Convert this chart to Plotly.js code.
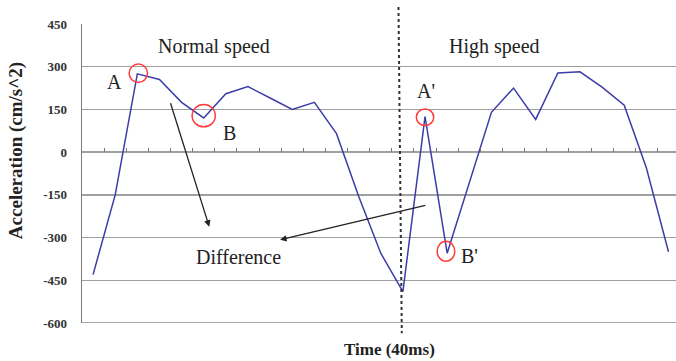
<!DOCTYPE html>
<html>
<head>
<meta charset="utf-8">
<script src="https://cdn.plot.ly/plotly-3.0.1.min.js"></script>
<style>html,body{margin:0;padding:0;background:#fff;}#chart{width:676px;height:361px;}</style>
</head>
<body>
<div id="chart"></div>
<script>
// Sample index (each sample = one time step)
const sampleIndex = [0,1,2,3,4,5,6,7,8,9,10,11,12,13,14,15,16,17,18,19,20,21,22,23,24,25,26];
// Acceleration (cm/s^2)
const acceleration = [-430,-150,275,255,175,120,205,230,190,150,175,65,-155,-355,-490,125,-355,-110,140,225,115,278,282,228,165,-55,-350];
const yTicks = [-600,-450,-300,-150,0,150,300,450];
// Marked points: [index, label]
const markedPoints = [[2,'A'],[5,'B'],[15,"A'"],[16,"B'"]];

const serif = 'Liberation Serif';
const boundaries = sampleIndex.map(i => i + 0.5);

const trace = {
  x: sampleIndex, y: acceleration, type: 'scatter', mode: 'lines',
  line: {color: '#3d3da8', width: 1.5}, hoverinfo: 'x+y'
};

// circle geometry (pixels): [dx, dy, rx, ry]
const circleGeom = {'A':[1,0.6,9.2,9.2],'B':[0,2.3,11.6,11.2],"A'":[0,-0.7,8.7,8.3],"B'":[-1.2,2,8.8,10]};
const shapes = markedPoints.map(([i,lab]) => {
  const g = circleGeom[lab];
  return {type:'circle', xref:'x', yref:'y', xsizemode:'pixel', ysizemode:'pixel',
    xanchor: sampleIndex[i], yanchor: acceleration[i],
    x0: g[0]-g[2], x1: g[0]+g[2], y0: g[1]-g[3], y1: g[1]+g[3],
    line:{color:'#ff3b3b', width:1.5}};
});
shapes.push({type:'line', xref:'x', yref:'paper', x0:13.8, x1:13.95, y0:1.057, y1:-0.034,
  line:{color:'#333', width:2, dash:'3px,3px'}});
shapes.push({type:'line', xref:'paper', yref:'y', x0:0, x1:1, y0:-600, y1:-600,
  line:{color:'#8a8a8a', width:1.4}});

const txt = (text, x, y) => ({text, x, y, xref:'x', yref:'y', showarrow:false,
  xanchor:'center', yanchor:'middle', font:{family:serif, size:20, color:'#222'}});
const annotations = [
  txt('Normal speed', 5.45, 372),
  txt('High speed', 18.12, 372),
  txt('Difference', 6.56, -367),
  txt('A', 0.99, 247),
  txt('B', 6.16, 68),
  txt("A'", 15.05, 216),
  txt("B'", 17.03, -365),
  {text:'', x:5.25, y:-262, ax:3.48, ay:177, xref:'x', yref:'y', axref:'x', ayref:'y',
   showarrow:true, arrowhead:2, arrowsize:1, arrowwidth:1.3, arrowcolor:'#222'},
  {text:'', x:8.45, y:-308, ax:15.08, ay:-186, xref:'x', yref:'y', axref:'x', ayref:'y',
   showarrow:true, arrowhead:2, arrowsize:1, arrowwidth:1.3, arrowcolor:'#222'},
  {text:'<b>Time (40ms)</b>', xref:'paper', yref:'paper', x:0.5185, y:-0.087, showarrow:false,
   xanchor:'center', yanchor:'middle', font:{family:serif, size:17, color:'#222'}},
  {text:'<b>Acceleration (cm/s^2)</b>', xref:'paper', yref:'paper', x:-0.111, y:0.575, showarrow:false,
   xanchor:'center', yanchor:'middle', textangle:-90, font:{family:serif, size:19, color:'#222'}}
];

const layout = {
  width:676, height:361, margin:{l:82, r:0, t:24, b:38},
  font:{family:serif},
  paper_bgcolor:'#fff', plot_bgcolor:'#fff', showlegend:false,
  xaxis:{range:[-0.5, 26.34], anchor:'free', position:600/1050, showline:false,
    showgrid:false, zeroline:false, ticks:'inside', ticklen:4, tickwidth:1, tickcolor:'#777',
    tickmode:'array', tickvals:boundaries, showticklabels:false},
  yaxis:{range:[-600,450], tickmode:'array', tickvals:yTicks, ticktext:yTicks.map(String),
    showgrid:true, gridcolor:'#a0a0a0', gridwidth:1.4, zeroline:false,
    showline:true, linecolor:'#7a7a7a', linewidth:1.4, ticks:'', ticklabelstandoff:11,
    tickfont:{family:serif, size:13, color:'#333', weight:'bold'}},
  shapes, annotations
};
Plotly.newPlot('chart', [trace], layout, {displayModeBar:false, staticPlot:true});
</script>
</body>
</html>
